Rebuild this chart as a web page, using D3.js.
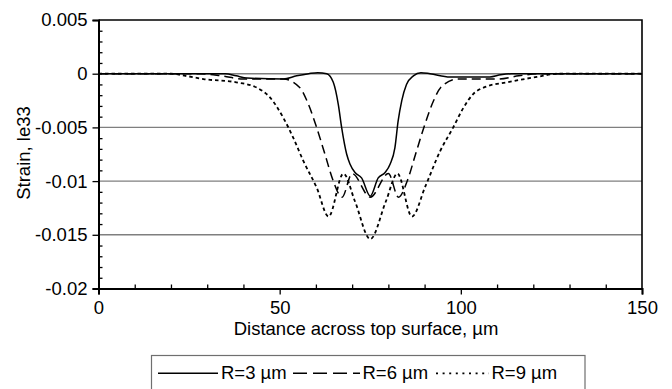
<!DOCTYPE html>
<html>
<head>
<meta charset="utf-8">
<script src="https://cdn.jsdelivr.net/npm/d3@7"></script>
<style>
  html, body { margin: 0; padding: 0; background: #fff; }
  svg { display: block; font-family: "Liberation Sans", Arial, sans-serif; }
</style>
</head>
<body>
<svg id="chart" width="672" height="389"></svg>
<script>
// ---- data ----
const xDomain = [0, 150];
const yDomain = [-0.02, 0.005];
const xTickValues = [0, 50, 100, 150];
const xTickLabels = ["0", "50", "100", "150"];
const yTickValues = [0.005, 0, -0.005, -0.01, -0.015, -0.02];
const yTickLabels = ["0.005", "0", "-0.005", "-0.01", "-0.015", "-0.02"];
const gridValues = [0, -0.005, -0.01, -0.015];

const seriesNames = ["R=3 \u00b5m", "R=6 \u00b5m", "R=9 \u00b5m"];

// R = 3 um
const r3X = [0, 35, 38, 41, 51, 54.7, 58, 60.5, 63, 64.8, 66.2, 67.1, 68.5, 69.4, 70.8, 72.6, 75,
             77.2, 79.1, 80.5, 81.8, 82.7, 83.7, 85, 86.9, 89, 91.5, 97, 108, 111, 114, 150];
const r3Y = [0, 0, -0.0002, -0.0004, -0.0005, -0.0002, 0, 0.0001, 0, -0.0008, -0.0029, -0.005, -0.0075, -0.0084, -0.0092, -0.0097, -0.0114,
             -0.0097, -0.0092, -0.0084, -0.0069, -0.0044, -0.0025, -0.001, -0.0002, 0.0001, 0, -0.0003, -0.0003, -0.0001, 0, 0];

// R = 6 um
const r6X = [0, 28, 34, 40, 51, 55.6, 57.5, 60.2, 62.5, 64.8, 67.2, 70, 75, 80, 82.8, 85.2, 87.5, 89.8, 92.5, 94.4, 99, 110, 116, 122, 150];
const r6Y = [0, 0, -0.0002, -0.0005, -0.0005, -0.0013, -0.0025, -0.005, -0.0075, -0.01, -0.0115, -0.0093, -0.0115, -0.0093, -0.0115, -0.01, -0.0075, -0.005, -0.0025, -0.0013, -0.0005, -0.0005, -0.0002, 0, 0];

// R = 9 um
const r9X = [0, 20, 24, 29, 38, 43.7, 47.3, 51, 53.8, 56.5, 60.2, 63.5, 67.6, 70.8, 75, 79.3, 82.5, 86.5, 90.2, 94.3, 97.9, 100.5, 103.4, 107, 112.7, 121, 127, 150];
const r9Y = [0, 0, -0.0002, -0.0005, -0.0008, -0.0013, -0.0022, -0.0041, -0.006, -0.0081, -0.0106, -0.0133, -0.0093, -0.0119, -0.0154, -0.0119, -0.0093, -0.0133, -0.0105, -0.0072, -0.005, -0.0033, -0.0019, -0.0012, -0.0008, -0.0003, 0, 0];

// ---- layout ----
const svg = d3.select("#chart");
const pLeft = 98.5, pRight = 642, pTop = 20, pBottom = 288.5;
const x = d3.scaleLinear().domain(xDomain).range([pLeft, pRight]);
const y = d3.scaleLinear().domain(yDomain).range([pBottom, pTop]);
const fontSize = 18.5;

// gridlines
svg.append("g").selectAll("line").data(gridValues).join("line")
  .attr("x1", pLeft).attr("x2", pRight)
  .attr("y1", d => y(d)).attr("y2", d => y(d))
  .attr("stroke", "#7f7f7f").attr("stroke-width", 1.4);

// frame (top + right)
svg.append("path")
  .attr("d", `M${pLeft},${pTop}H${pRight}V${pBottom}`)
  .attr("fill", "none").attr("stroke", "#000").attr("stroke-width", 1.6);

// curves
const line = d3.line().x(d => x(d[0])).y(d => y(d[1])).curve(d3.curveMonotoneX);
const series = [
  { xs: r3X, ys: r3Y, dash: null, width: 1.5 },
  { xs: r6X, ys: r6Y, dash: "9,5", width: 1.5 },
  { xs: r9X, ys: r9Y, dash: "3.5,3", width: 1.8 }
];
series.forEach(s => {
  svg.append("path")
    .datum(s.xs.map((v, i) => [v, s.ys[i]]))
    .attr("d", line)
    .attr("fill", "none")
    .attr("stroke", "#000")
    .attr("stroke-width", s.width)
    .attr("stroke-dasharray", s.dash);
});

// y axis
const yMinor = d3.range(0.004, -0.0201, -0.001).map(v => +v.toFixed(4)).filter(v => !yTickValues.some(t => Math.abs(t - v) < 1e-9));
const yAxis = svg.append("g").attr("transform", `translate(${pLeft},0)`)
  .call(d3.axisLeft(y).tickValues(yTickValues).tickSize(6).tickPadding(5)
    .tickFormat((d, i) => yTickLabels[i]));
svg.append("g").attr("transform", `translate(${pLeft},0)`)
  .call(d3.axisRight(y).tickValues(yMinor).tickSize(4).tickFormat(""))
  .call(g => g.select(".domain").remove());
yAxis.select(".domain").attr("stroke-width", 2);

// x axis
const xMinor = d3.range(10, 150, 10).filter(v => v % 50 !== 0);
const xAxis = svg.append("g").attr("transform", `translate(0,${pBottom})`)
  .call(d3.axisBottom(x).tickValues(xTickValues).tickSize(6).tickPadding(6)
    .tickFormat((d, i) => xTickLabels[i]));
svg.append("g").attr("transform", `translate(0,${pBottom})`)
  .call(d3.axisTop(x).tickValues(xMinor).tickSize(4).tickFormat(""))
  .call(g => g.select(".domain").remove());
xAxis.select(".domain").attr("stroke-width", 2);

svg.selectAll(".tick line").attr("stroke", "#000").attr("stroke-width", 1.3);
svg.selectAll(".domain").attr("stroke", "#000");
svg.selectAll(".tick text").attr("font-size", fontSize).attr("fill", "#000")
  .attr("font-family", "Liberation Sans, Arial, sans-serif");

// axis titles
svg.append("text")
  .attr("x", 366).attr("y", 335)
  .attr("text-anchor", "middle").attr("font-size", fontSize)
  .text("Distance across top surface, \u00b5m");
svg.append("text")
  .attr("transform", "translate(30,153) rotate(-90)")
  .attr("text-anchor", "middle").attr("font-size", fontSize)
  .text("Strain, le33");

// legend
const lg = svg.append("g");
lg.append("rect").attr("x", 151.5).attr("y", 355.5).attr("width", 433.5).attr("height", 45)
  .attr("fill", "#fff").attr("stroke", "#6f6f6f").attr("stroke-width", 1.2);
const legendItems = [
  { x1: 158, x2: 218, tx: 221, dash: null, width: 1.5 },
  { x1: 293, x2: 360, tx: 362.5, dash: "14,6", width: 1.6 },
  { x1: 436, x2: 489, tx: 491.5, dash: "2,4.6", width: 1.8 }
];
legendItems.forEach((it, i) => {
  lg.append("line").attr("x1", it.x1).attr("x2", it.x2).attr("y1", 373.3).attr("y2", 373.3)
    .attr("stroke", "#000").attr("stroke-width", it.width).attr("stroke-dasharray", it.dash);
  lg.append("text").attr("x", it.tx).attr("y", 378.5).attr("font-size", fontSize)
    .text(seriesNames[i]);
});
</script>
</body>
</html>
